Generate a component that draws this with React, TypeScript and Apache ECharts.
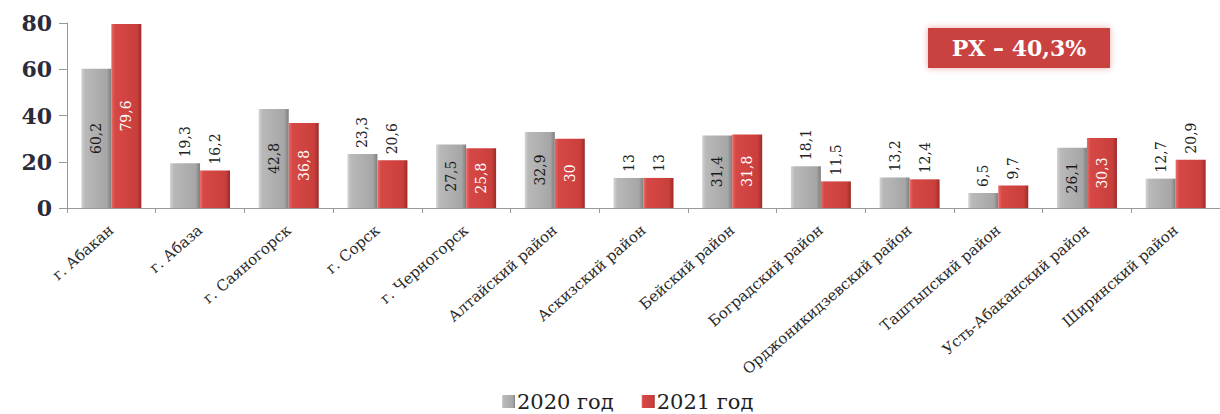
import React, { useEffect, useRef } from "react";
import * as echarts from "echarts";

const categories = [
  "г. Абакан",
  "г. Абаза",
  "г. Саяногорск",
  "г. Сорск",
  "г. Черногорск",
  "Алтайский район",
  "Аскизский район",
  "Бейский район",
  "Боградский район",
  "Орджоникидзевский район",
  "Таштыпский район",
  "Усть-Абаканский район",
  "Ширинский район",
];
const values2020 = [60.2, 19.3, 42.8, 23.3, 27.5, 32.9, 13, 31.4, 18.1, 13.2, 6.5, 26.1, 12.7];
const values2021 = [79.6, 16.2, 36.8, 20.6, 25.8, 30, 13, 31.8, 11.5, 12.4, 9.7, 30.3, 20.9];
const yTicks = { min: 0, max: 80, interval: 20 };
const seriesNames = ["2020 год", "2021 год"];
const noteText = "РХ – 40,3%";

const SERIF = "DejaVu Serif";

const fmt = (v: number) => String(v).replace(".", ",");

function makeData(vals: number[], insideColor: string) {
  return vals.map((v) => {
    const inside = v > 24;
    return {
      value: v,
      label: inside
        ? {
            show: true,
            position: "inside",
            rotate: 90,
            color: insideColor,
            fontFamily: SERIF,
            fontSize: 14,
            formatter: () => fmt(v),
          }
        : {
            show: true,
            position: "top",
            rotate: 90,
            align: "left",
            verticalAlign: "middle",
            distance: 6,
            color: "#222",
            fontFamily: SERIF,
            fontSize: 14,
            formatter: () => fmt(v),
          },
    };
  });
}

const grayGrad = new echarts.graphic.LinearGradient(0, 0, 1, 0, [
  { offset: 0, color: "#d4d4d4" },
  { offset: 0.12, color: "#b9b9b9" },
  { offset: 0.85, color: "#a6a6a6" },
  { offset: 1, color: "#7e7e7e" },
]);
const redGrad = new echarts.graphic.LinearGradient(0, 0, 1, 0, [
  { offset: 0, color: "#e86c68" },
  { offset: 0.12, color: "#d64845" },
  { offset: 0.85, color: "#c93f3c" },
  { offset: 1, color: "#9c2b29" },
]);

export default function App() {
  const ref = useRef<HTMLDivElement>(null);
  useEffect(() => {
    if (!ref.current) return;
    const chart = echarts.init(ref.current, undefined, { renderer: "svg" });
    chart.setOption({
      animation: false,
      backgroundColor: "#ffffff",
      textStyle: { fontFamily: SERIF },
      grid: { left: 67, top: 23, width: 1163, height: 185, containLabel: false },
      legend: {
        left: 497,
        top: 386,
        itemWidth: 13,
        itemHeight: 13,
        itemGap: 28,
        icon: "rect",
        textStyle: { fontFamily: SERIF, fontSize: 21, color: "#222", padding: [0, 0, 0, -3] },
        data: seriesNames,
      },
      xAxis: {
        type: "category",
        data: categories,
        axisLine: { lineStyle: { color: "#999", width: 1 } },
        axisTick: { show: true, length: 5, lineStyle: { color: "#999" } },
        axisLabel: {
          rotate: 41,
          interval: 0,
          margin: 20,
          fontFamily: SERIF,
          fontSize: 15,
          color: "#2a2a2a",
        },
      },
      yAxis: {
        type: "value",
        min: yTicks.min,
        max: yTicks.max,
        interval: yTicks.interval,
        splitLine: { show: false },
        axisLine: { show: true, lineStyle: { color: "#999", width: 1 } },
        axisTick: { show: true, length: 8, lineStyle: { color: "#999" } },
        axisLabel: {
          margin: 15,
          fontFamily: SERIF,
          fontSize: 22,
          fontWeight: "bold",
          color: "#2b2b3a",
        },
      },
      series: [
        {
          name: seriesNames[0],
          type: "bar",
          barWidth: 30,
          barGap: "0%",
          itemStyle: { color: grayGrad },
          data: makeData(values2020, "#1a1a1a"),
        },
        {
          name: seriesNames[1],
          type: "bar",
          barWidth: 30,
          barGap: "0%",
          itemStyle: { color: redGrad },
          data: makeData(values2021, "#ffffff"),
        },
      ],
      graphic: [
        {
          type: "group",
          left: 928,
          top: 28,
          children: [
            {
              type: "rect",
              shape: { x: 0, y: 0, width: 182, height: 40 },
              style: {
                fill: "#c9423f",
                shadowBlur: 6,
                shadowColor: "rgba(200,60,60,0.45)",
              },
            },
            {
              type: "text",
              x: 91,
              y: 20,
              style: {
                text: noteText,
                fill: "#ffffff",
                fontFamily: SERIF,
                fontSize: 22,
                fontWeight: "bold",
                align: "center",
                verticalAlign: "middle",
              },
            },
          ],
        },
      ],
    });
    return () => chart.dispose();
  }, []);
  return (
    <div
      ref={ref}
      style={{ position: "absolute", left: 0, top: 0, width: 1220, height: 414 }}
    />
  );
}
